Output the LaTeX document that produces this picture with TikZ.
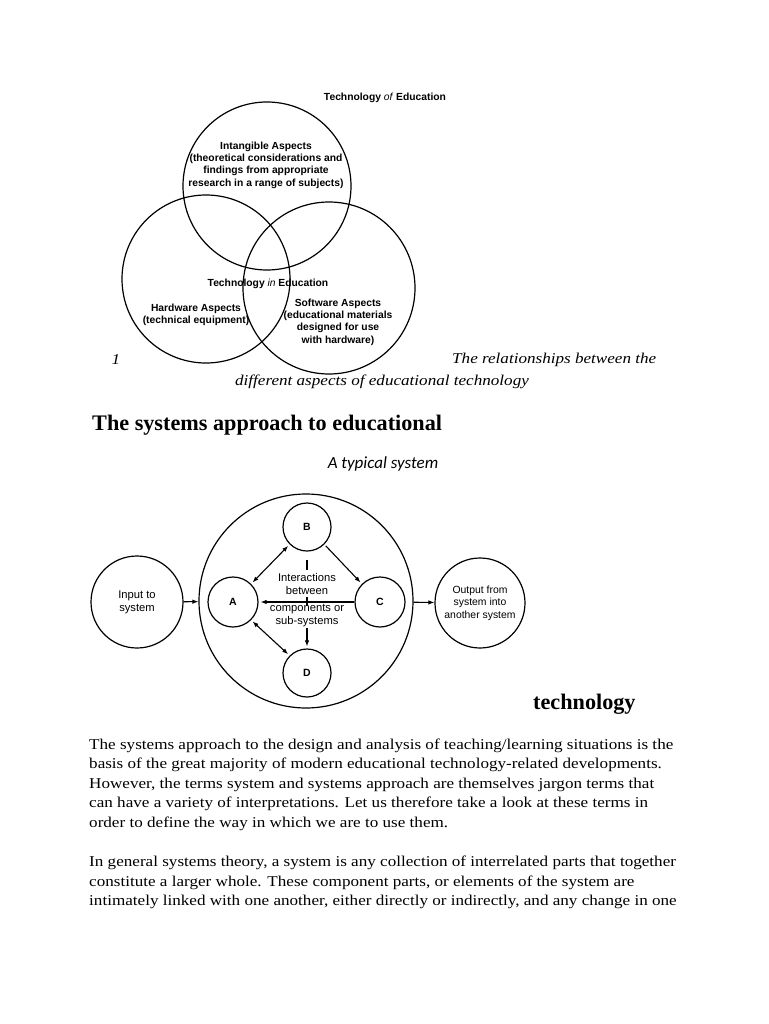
\documentclass[tikz,border=0pt]{standalone}
\usepackage{fontspec}
\setmainfont{Liberation Serif}
\setsansfont{Liberation Sans}
\newfontfamily\calibri{Carlito}
\newfontfamily\bodyfont[FakeStretch=1.14]{Liberation Serif}
\usetikzlibrary{arrows.meta,positioning}

\begin{document}
\begin{tikzpicture}[
    x=1pt, y=-1pt,
    venn/.style={draw, circle, line width=1.2pt, inner sep=0pt},
    vennlabel/.style={font=\sffamily\bfseries\fontsize{10.3}{12.4}\selectfont, align=center, inner sep=0pt},
    part/.style={draw, circle, line width=1.2pt, minimum size=50pt, inner sep=0pt, font=\sffamily\bfseries\fontsize{10.5}{12}\selectfont},
    sysbox/.style={draw, circle, line width=1.2pt, inner sep=0pt, align=center, font=\sffamily\fontsize{11.2}{12.8}\selectfont},
    syslabel/.style={font=\sffamily\fontsize{11.2}{13}\selectfont, align=center, inner sep=0pt},
    arrow/.style={line width=1.1pt, -{Latex[length=6pt,width=4.5pt]}},
    twoway/.style={line width=1.1pt, {Latex[length=6pt,width=4.5pt]}-{Latex[length=6pt,width=4.5pt]}},
    heading/.style={font=\bfseries\fontsize{22.2}{26}\selectfont, anchor=base west, inner sep=0pt},
    caption/.style={font=\bodyfont\itshape\fontsize{15}{18}\selectfont, inner sep=0pt},
    bodyline/.style={font=\bodyfont\fontsize{15}{20}\selectfont, anchor=base west, inner sep=0pt}
]
\useasboundingbox[fill=white] (0,0) rectangle (768,1024);

% Venn diagram
\node[venn, minimum size=168pt] (intangible) at (267,186) {};
\node[venn, minimum size=168pt] (hardware) at (206,279) {};
\node[venn, minimum size=172pt] (software) at (329,288) {};

\node[vennlabel] (tech_of) at (385,98) {Technology \textmd{\textit{of}} Education};
\node[vennlabel] (intangible_txt) at (266,165) {Intangible Aspects\\(theoretical considerations and\\findings from appropriate\\research in a range of subjects)};
\node[vennlabel] (tech_in) at (268,284) {Technology \textmd{\textit{in}} Education};
\node[vennlabel] (hardware_txt) at (196,315) {Hardware Aspects\\(technical equipment)};
\node[vennlabel] (software_txt) at (338,322) {Software Aspects\\(educational materials\\designed for use\\with hardware)};

% Caption
\node[caption] (fig_no) at (116,360) {1};
\node[caption, anchor=west] (cap1) at (452,360) {The relationships between the};
\node[caption] (cap2) at (382,382) {different aspects of educational technology};

% Headings
\node[heading] (head1) at (92,430) {The systems approach to educational};
\node[font=\calibri\itshape\fontsize{17}{20}\selectfont] (typical) at (383,464) {A typical system};
\node[heading] (head2) at (533,709) {technology};

% System diagram
\node[sysbox, minimum size=92pt] (input) at (137,602) {Input to\\system};
\node[sysbox, minimum size=214pt] (whole) at (306,601) {};
\node[sysbox, minimum size=90pt, font=\sffamily\fontsize{10.4}{12.6}\selectfont] (output) at (480,603) {Output from\\system into\\another system};

\node[part] (A) at (233,602) {A};
\node[part, minimum size=48pt] (B) at (307,527) {B};
\node[part] (C) at (380,602) {C};
\node[part, minimum size=48pt] (D) at (307,673) {D};

\node[syslabel] (inter1) at (307,583.5) {Interactions\\between};
\node[syslabel] (inter2) at (307,616) {components or\\sub-systems};

\coordinate (stub_top) at (307,560);
\coordinate (stub_bot) at (307,570);
\coordinate (tick_top) at (307,597);
\coordinate (tick_bot) at (307,606);
\coordinate (down_start) at (307,628);

% Connections
\draw[arrow] (input) -- (whole);
\draw[arrow] (whole) -- (output);

\draw[twoway, shorten <=2pt, shorten >=2pt] (A.north east) -- (B.south west);
\draw[arrow, shorten <=2pt, shorten >=2pt] (B.south east) -- (C.north west);
\draw[arrow, shorten >=2pt] (C.west) -- (A.east);
\draw[twoway, shorten <=2pt, shorten >=2pt] (A.south east) -- (D.north west);

\draw[line width=1.1pt] (stub_top) -- (stub_bot);
\draw[line width=1.1pt] (tick_top) -- (tick_bot);
\draw[arrow, shorten >=2pt] (down_start) -- (D.north);

% Body text
\node[bodyline] (line1) at (89,749) {The systems approach to the design and analysis of teaching/learning situations is the};
\node[bodyline] (line2) at (89,768.6) {basis of the great majority of modern educational technology-related developments.};
\node[bodyline] (line3) at (89,788.2) {However, the terms system and systems approach are themselves jargon terms that};
\node[bodyline] (line4) at (89,807.8) {can have a variety of interpretations. Let us therefore take a look at these terms in};
\node[bodyline] (line5) at (89,827.4) {order to define the way in which we are to use them.};
\node[bodyline] (line6) at (89,866.6) {In general systems theory, a system is any collection of interrelated parts that together};
\node[bodyline] (line7) at (89,886.2) {constitute a larger whole. These component parts, or elements of the system are};
\node[bodyline] (line8) at (89,905.8) {intimately linked with one another, either directly or indirectly, and any change in one};

\end{tikzpicture}
\end{document}
